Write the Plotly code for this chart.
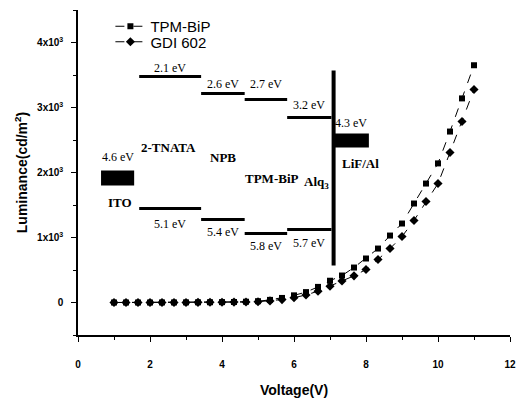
import plotly.graph_objects as go

# ---- data ----
voltage = [1.0, 1.333, 1.667, 2.0, 2.333, 2.667, 3.0, 3.333, 3.667, 4.0, 4.333, 4.667,
           5.0, 5.333, 5.667, 6.0, 6.333, 6.667, 7.0, 7.333, 7.667, 8.0, 8.333, 8.667,
           9.0, 9.333, 9.667, 10.0, 10.333, 10.667, 11.0]
tpm_bip = [0, 0, 0, 0, 1, 1, 2, 3, 4, 6, 8, 12,
           20, 40, 70, 110, 160, 240, 335, 415, 538, 677, 830, 1030,
           1215, 1523, 1830, 2140, 2630, 3140, 3650]
gdi602 = [0, 0, 0, 0, 0, 1, 1, 2, 3, 4, 6, 8,
          12, 25, 45, 75, 115, 175, 250, 330, 410, 508, 661, 830,
          1015, 1262, 1554, 1830, 2308, 2785, 3277]
series_names = ["TPM-BiP", "GDI 602"]

y_tickvals = [0, 1000, 2000, 3000, 4000]
y_ticktext = ["0", "1x10<sup>3</sup>", "2x10<sup>3</sup>", "3x10<sup>3</sup>", "4x10<sup>3</sup>"]

# energy-level diagram (inset) content
layers = ["2-TNATA", "NPB", "TPM-BiP", "Alq<sub>3</sub>"]
lumo_labels = ["2.1 eV", "2.6 eV", "2.7 eV", "3.2 eV"]
homo_labels = ["5.1 eV", "5.4 eV", "5.8 eV", "5.7 eV"]
ito_label = "4.6 eV"
cathode_label = "4.3 eV"

# inset placement (drawn in axis coordinates)
layer_x0 = [1.70, 3.42, 4.63, 5.81]
layer_x1 = [3.42, 4.63, 5.81, 7.04]
lumo_y = [3477, 3215, 3123, 2846]
homo_y = [1446, 1277, 1062, 1123]
lumo_lab_y = [3615, 3369, 3369, 3031]
homo_lab_y = [1215, 1092, 877, 923]
name_xy = [(2.52, 2385), (4.03, 2231), (5.37, 1908), (6.62, 1846)]

fig = go.Figure()
symbols = ["square", "diamond"]
legends = ["legend", "legend2"]
for name, ys, sym, lg in zip(series_names, [tpm_bip, gdi602], symbols, legends):
    fig.add_trace(go.Scatter(
        x=voltage, y=ys, name=name, mode="lines+markers", legend=lg, showlegend=True,
        line=dict(color="black", width=1, dash="dash"),
        marker=dict(symbol=sym, size=6 if sym == "square" else 7, color="black"),
    ))

shapes = []
ann = []
serif = "Liberation Serif"
# ITO block
shapes.append(dict(type="rect", xref="x", yref="y", x0=0.64, x1=1.56, y0=1800, y1=2031,
                   fillcolor="black", line=dict(width=0)))
ann.append(dict(x=1.10, y=2231, text=ito_label, font=dict(family=serif, size=12)))
ann.append(dict(x=1.18, y=1538, text="<b>ITO</b>", font=dict(family=serif, size=13)))
for i in range(len(layers)):
    shapes.append(dict(type="line", xref="x", yref="y", x0=layer_x0[i], x1=layer_x1[i],
                       y0=lumo_y[i], y1=lumo_y[i], line=dict(color="black", width=3)))
    shapes.append(dict(type="line", xref="x", yref="y", x0=layer_x0[i], x1=layer_x1[i],
                       y0=homo_y[i], y1=homo_y[i], line=dict(color="black", width=3)))
    xc = (layer_x0[i] + layer_x1[i]) / 2
    ann.append(dict(x=xc, y=lumo_lab_y[i], text=lumo_labels[i], font=dict(family=serif, size=12)))
    ann.append(dict(x=xc, y=homo_lab_y[i], text=homo_labels[i], font=dict(family=serif, size=12)))
    ann.append(dict(x=name_xy[i][0], y=name_xy[i][1], text="<b>" + layers[i] + "</b>",
                    font=dict(family=serif, size=13)))
# cathode bar and block
shapes.append(dict(type="line", xref="x", yref="y", x0=7.10, x1=7.10, y0=569, y1=3569,
                   line=dict(color="black", width=4)))
shapes.append(dict(type="rect", xref="x", yref="y", x0=7.10, x1=8.08, y0=2385, y1=2600,
                   fillcolor="black", line=dict(width=0)))
ann.append(dict(x=7.59, y=2754, text=cathode_label, font=dict(family=serif, size=12)))
ann.append(dict(x=7.86, y=2138, text="<b>LiF/Al</b>", font=dict(family=serif, size=13)))
for a in ann:
    a.update(xref="x", yref="y", showarrow=False, font=dict(color="black", **a["font"]))

legend_style = dict(x=0.075, xanchor="left", bgcolor="rgba(0,0,0,0)",
                    font=dict(size=15, family="Arial"), itemwidth=30)
fig.update_layout(
    width=523, height=405,
    margin=dict(l=78, r=7, t=10, b=70),
    paper_bgcolor="white", plot_bgcolor="white",
    font=dict(family="Arial", color="black"),
    shapes=shapes, annotations=ann, showlegend=True,
    legend=dict(y=1.0, yanchor="top", **legend_style),
    legend2=dict(y=0.9015, yanchor="middle", **legend_style),
    xaxis=dict(range=[0, 12], tickvals=[0, 2, 4, 6, 8, 10, 12], showgrid=False, zeroline=False,
               showline=True, linecolor="black", linewidth=1.5, ticks="outside", ticklen=5,
               tickwidth=1.2, tickcolor="black", ticklabelstandoff=14,
               tickfont=dict(size=10, family="Arial", weight="bold"),
               minor=dict(tickvals=[1, 3, 5, 7, 9, 11], ticks="outside", ticklen=3, tickcolor="black"),
               title=dict(text="<b>Voltage(V)</b>", font=dict(size=14), standoff=16)),
    yaxis=dict(range=[-500, 4500], tickvals=y_tickvals, ticktext=y_ticktext, showgrid=False,
               zeroline=False, showline=True, linecolor="black", linewidth=1.5, ticks="outside",
               ticklen=5, tickwidth=1.2, tickcolor="black", ticklabelstandoff=6,
               tickfont=dict(size=10, family="Arial", weight="bold"),
               minor=dict(tickvals=[-500, 500, 1500, 2500, 3500, 4500], ticks="outside", ticklen=3,
                          tickcolor="black"),
               title=dict(text="<b>Luminance(cd/m<sup>2</sup>)</b>", font=dict(size=14), standoff=6)),
)
fig.write_html("out.html")
